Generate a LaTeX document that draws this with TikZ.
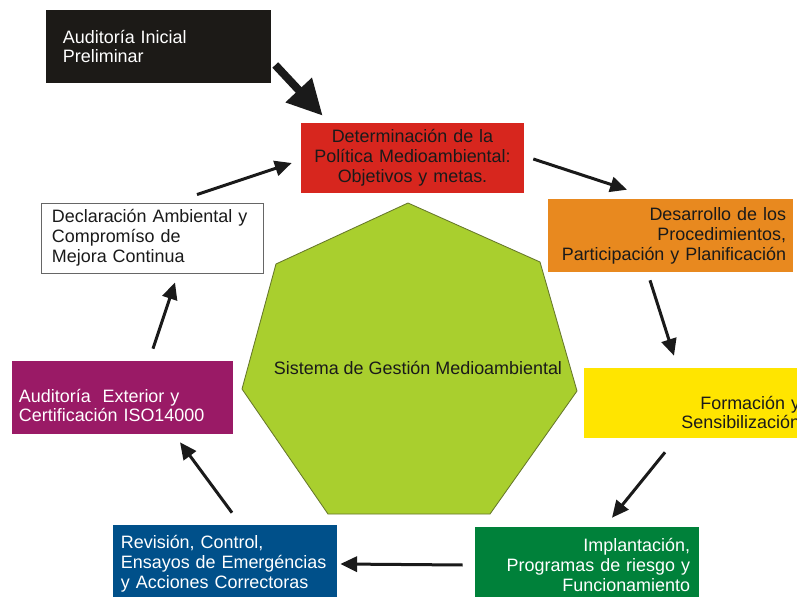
\documentclass[tikz,border=0pt]{standalone}
\usepackage{fontspec}
\setmainfont{Liberation Sans}
\usetikzlibrary{arrows.meta,calc}
\definecolor{cline}{HTML}{1A1A1A}
\definecolor{cinit}{HTML}{1C1A17}
\definecolor{cpolicy}{HTML}{D7261E}
\definecolor{cproc}{HTML}{E8891F}
\definecolor{ctrain}{HTML}{FFE500}
\definecolor{cimpl}{HTML}{00813A}
\definecolor{creview}{HTML}{00508A}
\definecolor{caudit}{HTML}{9A1A66}
\definecolor{csgm}{HTML}{A9CF2E}
\definecolor{csgmline}{HTML}{66772A}
\begin{document}
\begin{tikzpicture}[x=0.025cm,y=0.025cm]
\tikzstyle{every node}+=[font=\fontsize{12.75}{14.2}\selectfont, text=cline]
\tikzstyle{box}=[rectangle, inner ysep=0.1cm]
\tikzstyle{arr}=[draw=cline, line width=0.075cm, -{Triangle[length=0.42cm,width=0.38cm]}]
\tikzstyle{bigarr}=[draw=cline, line width=0.2cm, -{Triangle[length=0.88cm,width=0.85cm]}]
\useasboundingbox (0,0) rectangle (797,-597);
\clip (0,0) rectangle (797,-597);
\fill [white] (0,0) rectangle (797,-597);
% centre
\filldraw [fill=csgm, draw=csgmline, line width=0.6pt] (408,-203) -- (540,-262) -- (577,-391) -- (490,-514) -- (328,-514) -- (242,-389) -- (276,-264) -- cycle;
\node (sgm) at (418,-368) {Sistema de Gestión Medioambiental};
% cycle boxes
\node [box, fill=cinit, text=white, minimum height=1.825cm, inner xsep=0.425cm, text width=4.775cm, align=left] (init) at (158.5,-46.5) {Auditoría Inicial\\Preliminar};
\node [box, fill=cpolicy, minimum height=1.75cm, inner xsep=0.15cm, text width=5.275cm, align=center] (policy) at (412.5,-158) {Determinación de la\\Política Medioambiental:\\Objetivos y metas.};
\node [box, fill=cproc, minimum height=1.825cm, inner xsep=0.175cm, text width=5.775cm, align=right] (proc) at (670.5,-235.5) {Desarrollo de los\\Procedimientos,\\Participación y Planificación};
\node [box, fill=ctrain, inner xsep=0.3cm, text width=5.1cm, align=right, text height=0.925cm, text depth=0.625cm] (train) at (698,-403) {Formación y\\Sensibilización};
\node [box, fill=cimpl, text=white, minimum height=1.9cm, inner xsep=0.225cm, text width=5.15cm, align=right] (impl) at (587,-565) {Implantación,\\Programas de riesgo y\\Funcionamiento};
\node [box, fill=creview, text=white, minimum height=1.95cm, inner xsep=0.2cm, text width=5.2cm, align=left] (review) at (225,-564) {Revisión, Control,\\Ensayos de Emergéncias\\y Acciones Correctoras};
\node [box, fill=caudit, text=white, inner xsep=0.175cm, text width=5.175cm, align=left, text height=0.925cm, text depth=0.7cm] (audit) at (122.5,-397.5) {Auditoría~ Exterior y\\Certificación ISO14000};
\node [box, fill=white, draw=black!60, line width=0.6pt, minimum height=1.75cm, inner xsep=0.275cm, text width=5.0cm, align=left] (decl) at (152,-238) {Declaración Ambiental y\\Compromíso de\\Mejora Continua};
% arrows
\draw [bigarr] ($(init.east)+(4,-18.5)$) -- ($(policy.north west)+(22,7)$);
\draw [arr] ($(policy.east)+(9,-1)$) -- ($(proc.north)+(-43.5,9)$);
\draw [arr] ($(proc.south)+(-20.5,-8)$) -- ($(train.north)+(-24,12)$);
\draw [arr] ($(train.south)+(-33,-14)$) -- ($(impl.north)+(25,9)$);
\draw [arr] ($(impl.west)+(-12,0)$) -- ($(review.east)+(3,0)$);
\draw [arr] ($(review.north)+(7,12)$) -- ($(audit.south)+(57.5,-8)$);
\draw [arr] ($(audit.north)+(30.5,12)$) -- ($(decl.south)+(23,-9)$);
\draw [arr] ($(decl.north)+(45,8)$) -- ($(policy.west)+(-9,-5)$);
\end{tikzpicture}
\end{document}
